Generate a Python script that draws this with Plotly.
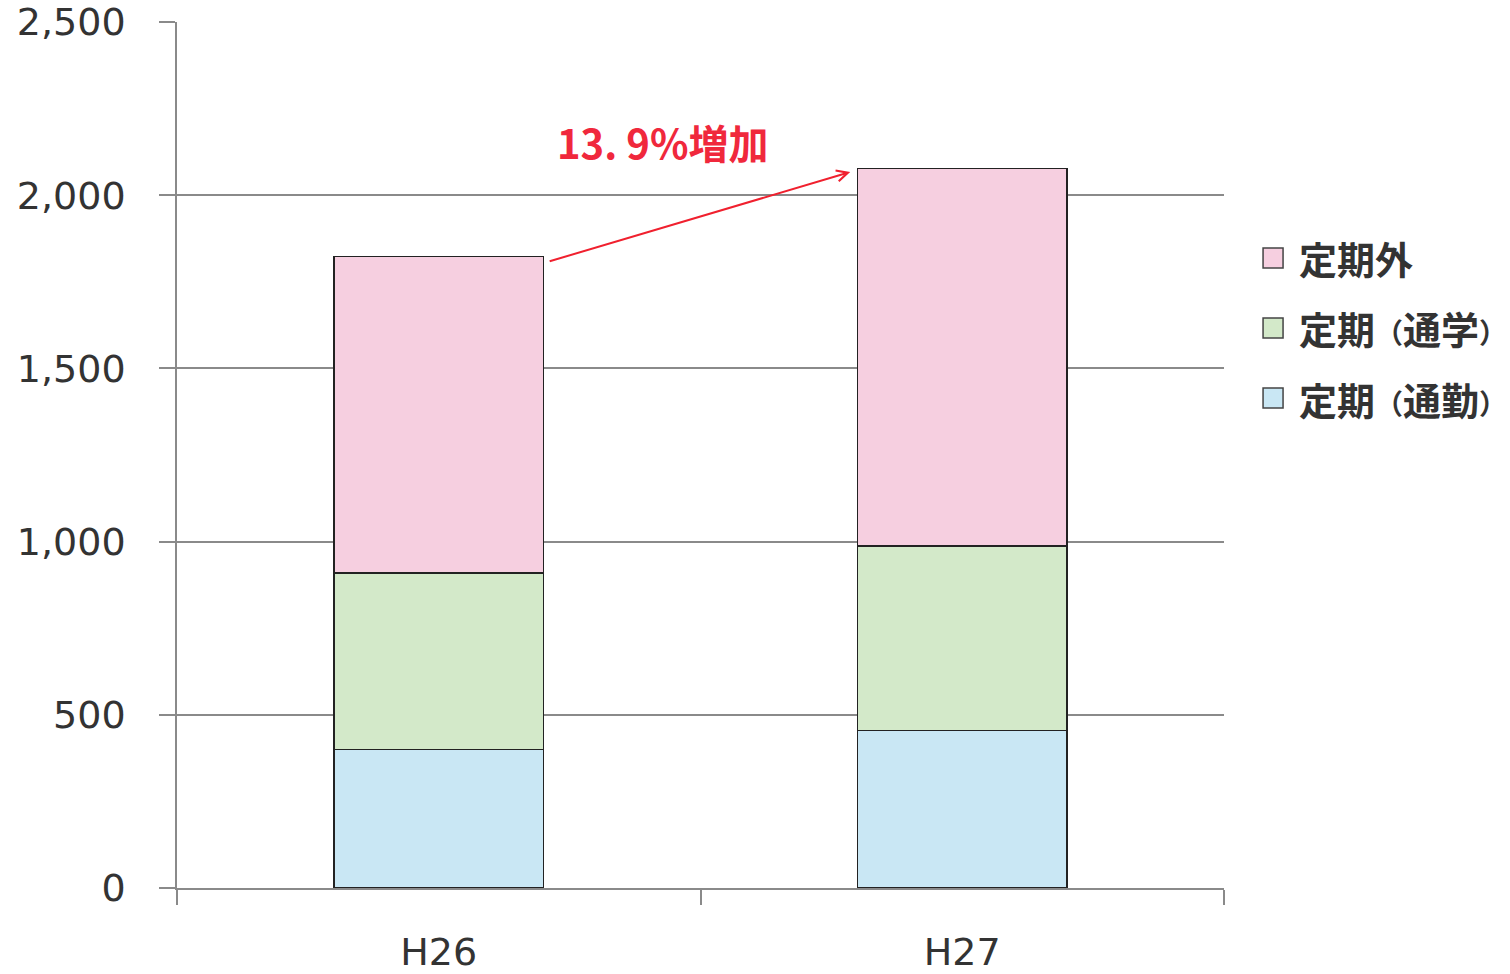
import plotly.graph_objects as go

# Passenger counts by ticket type (stacked), fiscal years H26 and H27
years = ["H26", "H27"]
commute = [400, 455]        # 定期（通勤）
school = [510, 532]         # 定期（通学）
non_pass = [913, 1090]      # 定期外

series_names = ["定期（通勤）", "定期（通学）", "定期外"]
series_values = [commute, school, non_pass]
series_colors = ["#c9e7f4", "#d3e9c9", "#f6cfe0"]

y_ticks = [0, 500, 1000, 1500, 2000, 2500]
growth_label = "13. 9%増加"

FONT = "DejaVu Sans, Verdana, sans-serif"
CJK = "Noto Sans CJK JP, sans-serif"

fig = go.Figure()
for name, vals, col in zip(series_names, series_values, series_colors):
    fig.add_trace(go.Bar(
        x=years, y=vals, name=name,
        marker=dict(color=col, line=dict(color="#222222", width=1.5)),
        showlegend=False,
    ))

totals = [sum(v) for v in zip(*series_values)]

# growth arrow from top of first bar to top of second bar
fig.add_annotation(
    x=0.786, y=totals[1] - 10, ax=0.209, ay=totals[0] - 15,
    xref="x", yref="y", axref="x", ayref="y",
    showarrow=True, arrowhead=5, arrowsize=1.1, arrowwidth=2,
    arrowcolor="#f0202e", text="",
)
fig.add_annotation(
    x=0.4265, y=totals[0] + 330, xref="x", yref="y",
    text="<b>%s</b>" % growth_label, showarrow=False,
    font=dict(family=CJK, size=40, color="#f0283c"),
)


def legend_text(name):
    # narrower full-width parentheses keep the label inside the page
    small = "<span style='font-size:28px'>%s</span>"
    return "<b>" + name.replace("（", small % "（").replace("）", small % "）") + "</b>"


# legend drawn as boxes + labels, topmost series first
legend_rows = [0.7275, 0.6467, 0.5658]
for name, col, yy in zip(series_names[::-1], series_colors[::-1], legend_rows):
    fig.add_shape(
        type="rect", xref="paper", yref="paper",
        x0=1.0373, x1=1.0564, y0=yy - 0.0115, y1=yy + 0.0115,
        fillcolor=col, line=dict(color="#444444", width=1.5),
    )
    fig.add_annotation(
        x=1.0697, y=yy, xref="paper", yref="paper", xanchor="left",
        yanchor="middle", text=legend_text(name), showarrow=False,
        font=dict(family=CJK, size=38, color="#333333"),
    )

fig.update_layout(
    width=1510, height=974,
    margin=dict(l=177, r=286, t=22, b=86),
    barmode="stack", bargap=0.6,
    plot_bgcolor="white", paper_bgcolor="white",
    font=dict(family=FONT, color="#333333"),
)
fig.update_xaxes(
    automargin=False,
    showline=True, linecolor="#8a8a8a", linewidth=1.5,
    ticks="outside", tickson="boundaries", ticklen=15, tickcolor="#8a8a8a",
    tickwidth=1.5, tickfont=dict(size=38, color="#333333"),
    ticklabelstandoff=30, showgrid=False,
)
fig.update_yaxes(
    automargin=False,
    range=[0, 2500], tickvals=y_ticks,
    ticktext=[f"{v:,}" for v in y_ticks],
    showline=True, linecolor="#8a8a8a", linewidth=1.5,
    showgrid=True, gridcolor="#8a8a8a", gridwidth=1.5,
    ticks="outside", ticklen=16, tickcolor="#8a8a8a", tickwidth=1.5,
    tickfont=dict(size=38, color="#333333"), ticklabelstandoff=26,
    zeroline=False,
)

fig.write_html("out.html")
